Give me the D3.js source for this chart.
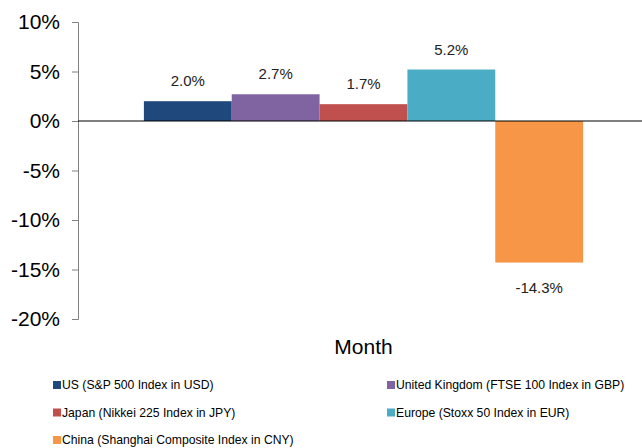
<!DOCTYPE html>
<html>
<head>
<meta charset="utf-8">
<script src="https://cdn.jsdelivr.net/npm/d3@7"></script>
<style>
  body { margin: 0; background: #fff; }
  svg { font-family: "Liberation Sans", Arial, sans-serif; }
</style>
</head>
<body>
<svg id="chart"></svg>
<script>
// data
var categories = ['Month'];
var seriesNames = [
  'US (S&P 500 Index in USD)',
  'United Kingdom (FTSE 100 Index in GBP)',
  'Japan (Nikkei 225 Index in JPY)',
  'Europe (Stoxx 50 Index in EUR)',
  'China (Shanghai Composite Index in CNY)'
];
var seriesValues = [2.0, 2.7, 1.7, 5.2, -14.3];
var seriesColors = ['#1F497D', '#8064A2', '#C0504D', '#4BACC6', '#F79646'];
var yTicks = [10, 5, 0, -5, -10, -15, -20];

var width = 642, height = 448;
var svg = d3.select('#chart').attr('width', width).attr('height', height);

// plot area
var plotLeft = 78, plotRight = 649, plotTop = 22, plotBottom = 319;

var y = d3.scaleLinear().domain([-20, 10]).range([plotBottom, plotTop]);
var x0 = d3.scaleBand().domain(categories).range([plotLeft, plotRight]).paddingInner(0).paddingOuter(0.15);
var x1 = d3.scaleBand().domain(seriesNames).range([0, x0.bandwidth()]);

// y axis
var yAxis = d3.axisLeft(y).tickValues(yTicks).tickSize(6).tickPadding(12)
  .tickFormat(function(d){ return d + '%'; });
var gy = svg.append('g').attr('transform', 'translate(' + plotLeft + ',0)').call(yAxis);
gy.select('.domain').attr('stroke', '#808080');
gy.selectAll('.tick line').attr('stroke', '#808080');
gy.selectAll('.tick text').attr('font-size', '21px').attr('fill', '#000')
  .attr('font-family', '"Liberation Sans", Arial, sans-serif');

// bars
var g = svg.append('g').attr('transform', 'translate(' + x0('Month') + ',0)');
g.selectAll('rect').data(seriesValues).enter().append('rect')
  .attr('x', function(d, i){ return x1(seriesNames[i]); })
  .attr('y', function(d){ return y(Math.max(0, d)); })
  .attr('width', x1.bandwidth())
  .attr('height', function(d){ return Math.abs(y(d) - y(0)); })
  .attr('fill', function(d, i){ return seriesColors[i]; });

// value labels
g.selectAll('text.val').data(seriesValues).enter().append('text')
  .attr('class', 'val')
  .attr('x', function(d, i){ return x1(seriesNames[i]) + x1.bandwidth()/2; })
  .attr('y', function(d){ return d >= 0 ? y(d) - 15 : y(d) + 30; })
  .attr('text-anchor', 'middle')
  .attr('font-size', '15px')
  .attr('fill', '#222')
  .text(function(d){ return d.toFixed(1) + '%'; });

// zero line
svg.append('line')
  .attr('x1', plotLeft).attr('x2', width)
  .attr('y1', y(0)).attr('y2', y(0))
  .attr('stroke', '#000').attr('stroke-width', 1);

// category label
svg.append('text')
  .attr('x', x0('Month') + x0.bandwidth()/2)
  .attr('y', 354)
  .attr('text-anchor', 'middle')
  .attr('font-size', '21px')
  .attr('fill', '#000')
  .text(categories[0]);

// legend
var legX = [53, 387], legY0 = 389, legStep = 27.5;
var leg = svg.selectAll('g.leg').data(seriesNames).enter().append('g')
  .attr('class', 'leg')
  .attr('transform', function(d, i){
    return 'translate(' + legX[i % 2] + ',' + (legY0 + Math.floor(i/2)*legStep) + ')';
  });
leg.append('rect')
  .attr('x', 0).attr('y', -8).attr('width', 8).attr('height', 8)
  .attr('fill', function(d, i){ return seriesColors[i]; });
leg.append('text')
  .attr('x', 9).attr('y', 0)
  .attr('font-size', '12.2px')
  .attr('fill', '#000')
  .text(function(d){ return d; });
</script>
</body>
</html>
